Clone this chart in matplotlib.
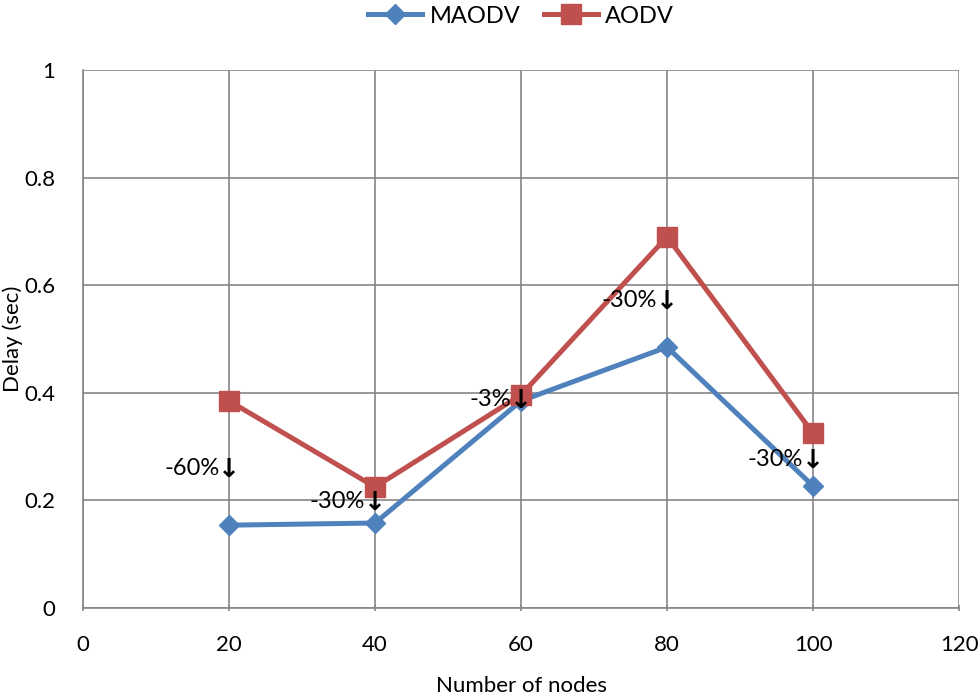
import matplotlib
matplotlib.use('Agg')
import matplotlib.pyplot as plt

plt.rcParams['font.family'] = ['Lato', 'DejaVu Sans']

nodes = [20, 40, 60, 80, 100]
maodv = [0.154, 0.158, 0.385, 0.485, 0.227]
aodv = [0.385, 0.225, 0.396, 0.690, 0.325]

gain_labels = ['-60%', '-30%', '-3%', '-30%', '-30%']
gain_y = [0.256, 0.195, 0.385, 0.569, 0.273]

blue = '#4F81BD'
red = '#C0504D'

fig = plt.figure(figsize=(9.79, 6.96), dpi=100)
ax = fig.add_axes([0.0848, 0.1264, 0.8948, 0.773])

ax.plot(nodes, maodv, color=blue, lw=3.6, marker='D', ms=10, label='MAODV', zorder=3)
ax.plot(nodes, aodv, color=red, lw=3.6, marker='s', ms=14, label='AODV', zorder=3)

# percentage label with a down arrow sitting on the node's gridline
for x, y, s in zip(nodes, gain_y, gain_labels):
    ax.text(x, y, '\u2193', ha='center', va='center', fontsize=19,
            fontweight='bold', family='DejaVu Sans', zorder=4)
    ax.annotate(s, (x, y), xytext=(-7, 1), textcoords='offset points',
                ha='right', va='center', fontsize=17, zorder=4)

ax.set_xlim(0, 120)
ax.set_ylim(0, 1)
ax.set_xticks(range(0, 121, 20))
ax.set_yticks([0, 0.2, 0.4, 0.6, 0.8, 1])
ax.set_yticklabels(['0', '0.2', '0.4', '0.6', '0.8', '1'])
ax.grid(True, color='#868686', lw=1.2)
ax.set_axisbelow(True)
for side in ['top', 'right']:
    ax.spines[side].set_visible(False)
for side in ['left', 'bottom']:
    ax.spines[side].set_color('#868686')
    ax.spines[side].set_linewidth(1.2)
ax.tick_params(axis='both', labelsize=16, color='#868686', length=5, width=1.2)
ax.tick_params(axis='x', direction='inout', pad=17)
ax.tick_params(axis='y', length=0, pad=20)

ax.set_xlabel('Number of nodes', fontsize=16, labelpad=15)
ax.set_ylabel('Delay (sec)', fontsize=16, labelpad=1)

ax.legend(loc='center', bbox_to_anchor=(0.5, 1.1), ncol=2, frameon=False,
          fontsize=17, handlelength=2.3, columnspacing=1.0, handletextpad=0.3,
          borderaxespad=0)

fig.savefig('out.png', dpi=100)
